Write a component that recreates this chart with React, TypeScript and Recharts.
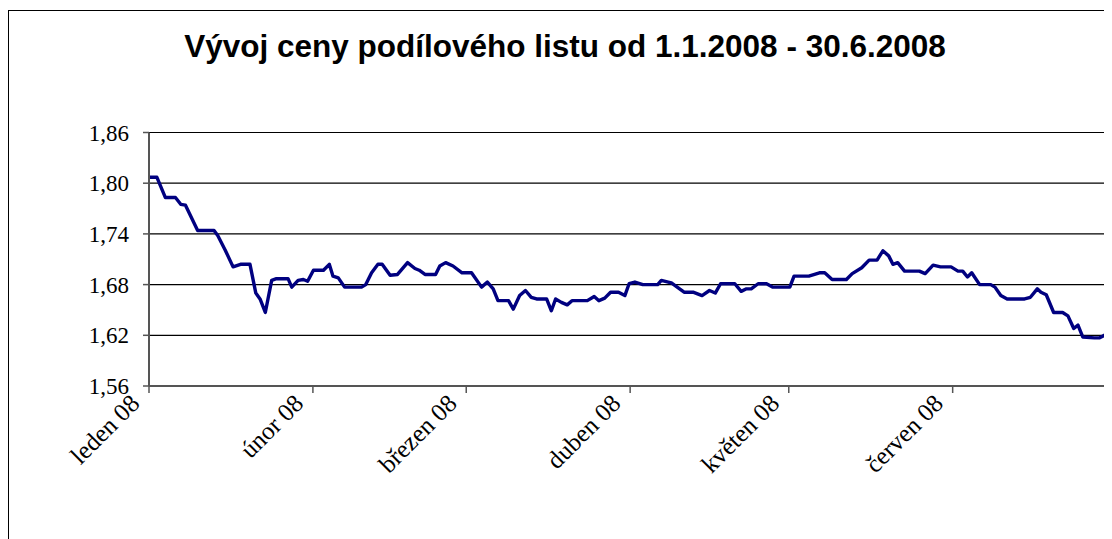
import React from "react";
import { LineChart, Line, XAxis, YAxis, CartesianGrid, ReferenceLine } from "recharts";

const titleText = "Vývoj ceny podílového listu od 1.1.2008 - 30.6.2008";

const days: number[] = [
  0, 1.5, 3.1, 5, 6, 6.9, 9.2, 12.3, 13, 14.4, 15.9, 17.3, 19.1, 20.2, 21, 22, 23.2, 24.1, 26.3, 27,
  28.2, 29.2, 30, 31.1, 33, 34.1, 34.8, 35.8, 37, 40.2, 41, 42.1, 43.3, 44.1, 45.6, 47, 48.9, 50.3, 51.1, 52.2,
  54.2, 55, 56.1, 57.5, 59.2, 61, 62.9, 64, 65.1, 66, 68, 68.9, 70.1, 71.2, 72.3, 73.3, 75.2, 76.1, 76.9, 78,
  79.1, 80, 82.9, 84.2, 85.1, 86.2, 87.3, 88.8, 90, 90.8, 91.9, 93.4, 96.2, 96.9, 98.2, 98.8, 101.2, 102.9, 104.6, 106,
  107.1, 108.1, 110.8, 112, 113, 113.9, 115.2, 116.8, 118, 121.2, 122, 124.8, 126.8, 127.8, 129.2, 131.9, 133, 134.8, 136.2, 137.7,
  138.8, 139.9, 140.7, 141.6, 142.9, 145.7, 146.8, 148.3, 149.7, 151.7, 153, 153.9, 154.8, 155.6, 157.1, 159.2, 160, 161.1, 162.3, 165.6,
  166.7, 168, 168.7, 169.7, 171.1, 172.8, 173.8, 174.9, 175.7, 176.6, 178.8, 179.8, 181,
];

const prices: number[] = [
  1.807, 1.807, 1.783, 1.783, 1.775, 1.774, 1.744, 1.744, 1.738, 1.721, 1.701, 1.704, 1.704, 1.670, 1.663, 1.647, 1.685, 1.687, 1.687, 1.677,
  1.685, 1.686, 1.684, 1.697, 1.697, 1.704, 1.690, 1.688, 1.677, 1.677, 1.680, 1.694, 1.704, 1.704, 1.691, 1.692, 1.706, 1.699, 1.697, 1.692,
  1.692, 1.702, 1.706, 1.702, 1.694, 1.694, 1.677, 1.683, 1.675, 1.661, 1.661, 1.651, 1.667, 1.673, 1.665, 1.663, 1.663, 1.649, 1.663, 1.659,
  1.656, 1.661, 1.661, 1.666, 1.661, 1.664, 1.671, 1.671, 1.667, 1.681, 1.683, 1.680, 1.680, 1.685, 1.683, 1.682, 1.671, 1.671, 1.667, 1.673,
  1.670, 1.681, 1.681, 1.672, 1.675, 1.675, 1.681, 1.681, 1.677, 1.677, 1.690, 1.690, 1.694, 1.694, 1.686, 1.686, 1.693, 1.700, 1.709, 1.709,
  1.720, 1.714, 1.704, 1.706, 1.696, 1.696, 1.693, 1.703, 1.701, 1.701, 1.696, 1.696, 1.689, 1.694, 1.680, 1.680, 1.677, 1.667, 1.663, 1.663,
  1.665, 1.675, 1.671, 1.668, 1.647, 1.647, 1.643, 1.628, 1.632, 1.618, 1.617, 1.617, 1.621,
];

const monthTicks: number[] = [0, 31, 60, 91, 121, 152];
const monthLabels: string[] = ["leden 08", "únor 08", "březen 08", "duben 08", "květen 08", "červen 08"];
const yTicks: number[] = [1.56, 1.62, 1.68, 1.74, 1.8, 1.86];

const data = days.map((d, i) => ({ day: d, price: prices[i] }));

const XTick = (props: any) => {
  const { x, y, payload } = props;
  const idx = monthTicks.indexOf(payload.value);
  const label = idx >= 0 ? monthLabels[idx] : "";
  const ex = x - 8;
  const ey = y + 10;
  return (
    <text
      x={ex}
      y={ey}
      textAnchor="end"
      fontFamily="'Liberation Serif', 'Times New Roman', serif"
      fontSize={25}
      fill="#000"
      transform={`rotate(-45, ${ex}, ${ey})`}
    >
      {label}
    </text>
  );
};

export default function App() {
  return (
    <div style={{ position: "relative", width: 1104, height: 531, background: "#fff" }}>
      <div
        style={{
          position: "absolute",
          left: 0,
          top: 2,
          width: 1104,
          height: 529,
          borderLeft: "1.5px solid #000",
          borderTop: "1.5px solid #000",
          boxSizing: "border-box",
        }}
      />
      <div
        style={{
          position: "absolute",
          left: 0,
          width: 1114,
          top: 22,
          textAlign: "center",
          fontFamily: "'Liberation Sans', Arial, sans-serif",
          fontWeight: "bold",
          fontSize: 31.5,
          lineHeight: "32px",
          color: "#000",
        }}
      >
        {titleText}
      </div>
      <div style={{ position: "absolute", left: 0, top: 0 }}>
        <LineChart
          width={1104}
          height={531}
          data={data}
          margin={{ top: 124.5, right: 6, bottom: 93, left: 0 }}
        >
          <CartesianGrid vertical={false} horizontal={true} stroke="#000" strokeWidth={1.2} />
          <XAxis
            dataKey="day"
            type="number"
            domain={[0, 181]}
            ticks={monthTicks}
            tick={<XTick />}
            interval={0}
            height={60}
            stroke="#555"
            strokeWidth={2}
            tickLine={{ stroke: "#555", strokeWidth: 1.5 }}
            tickSize={7}
          />
          <YAxis
            type="number"
            domain={[1.56, 1.86]}
            ticks={yTicks}
            width={141}
            interval={0}
            stroke="#555"
            strokeWidth={2}
            tickLine={{ stroke: "#555", strokeWidth: 1.5 }}
            tickSize={6}
            tickMargin={14}
            tickFormatter={(v: number) => v.toFixed(2).replace(".", ",")}
            tick={{ fill: "#000", fontSize: 23, fontFamily: "'Liberation Serif', 'Times New Roman', serif" }}
          />
          <ReferenceLine x={181} stroke="#888" strokeWidth={2} />
          <Line
            type="linear"
            dataKey="price"
            stroke="#000080"
            strokeWidth={3.4}
            dot={false}
            strokeLinejoin="round"
            isAnimationActive={false}
          />
        </LineChart>
      </div>
    </div>
  );
}
